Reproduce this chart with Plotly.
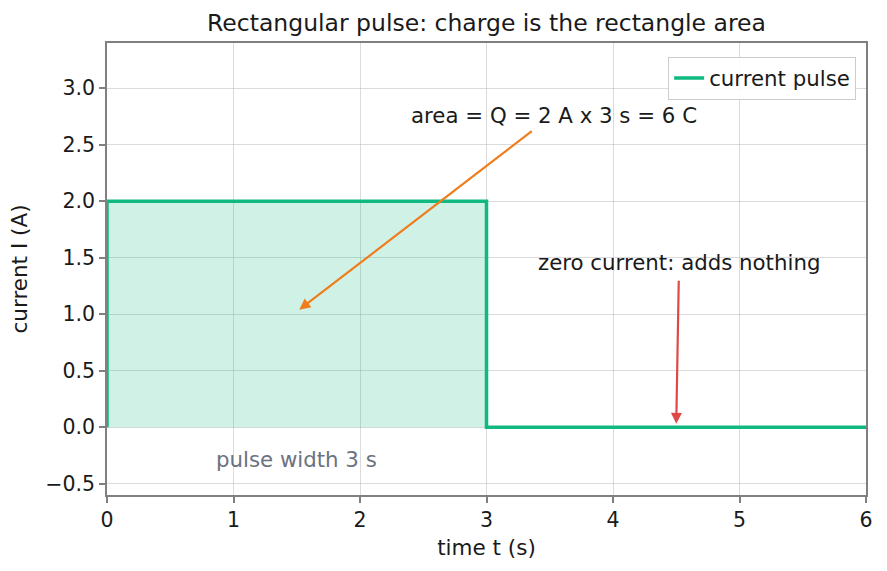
import plotly.graph_objects as go

# Data
t_vals = [0, 0, 3, 6]
i_vals = [0, 2, 0, 0]
fill_t = [0, 3]
fill_i = [2, 2]
x_ticks = [0, 1, 2, 3, 4, 5, 6]
y_ticks = [-0.5, 0.0, 0.5, 1.0, 1.5, 2.0, 2.5, 3.0]

GREEN = "#10b981"
FONT = "DejaVu Sans"

fig = go.Figure()
fig.add_trace(go.Scatter(
    x=fill_t, y=fill_i, mode="lines", line=dict(width=0),
    fill="tozeroy", fillcolor="rgba(16,185,129,0.2)",
    showlegend=False, hoverinfo="skip"))
fig.add_trace(go.Scatter(
    x=t_vals, y=i_vals, mode="lines", line_shape="hv",
    line=dict(color=GREEN, width=3.5), name="current pulse"))

ann_font = dict(family=FONT, size=21.3, color="#1a1a1a")
fig.add_annotation(x=1.52, y=1.04, ax=3.37, ay=2.63, xref="x", yref="y",
                   axref="x", ayref="y", showarrow=True, arrowhead=2,
                   arrowsize=1, arrowwidth=2.2, arrowcolor="#f07d1c", text="")
fig.add_annotation(x=3.53, y=2.76, xref="x", yref="y", showarrow=False,
                   text="area = Q = 2 A x 3 s = 6 C", font=ann_font)
fig.add_annotation(x=4.5, y=0.03, ax=4.52, ay=1.31, xref="x", yref="y",
                   axref="x", ayref="y", showarrow=True, arrowhead=2,
                   arrowsize=1, arrowwidth=2.2, arrowcolor="#e04848", text="")
fig.add_annotation(x=4.52, y=1.46, xref="x", yref="y", showarrow=False,
                   text="zero current: adds nothing", font=ann_font)
fig.add_annotation(x=1.5, y=-0.29, xref="x", yref="y", showarrow=False,
                   text="pulse width 3 s",
                   font=dict(family=FONT, size=21.3, color="#6b7280"))

axis_common = dict(
    showline=True, linecolor="#808080", linewidth=1.5, mirror=True,
    ticks="outside", ticklen=6, tickwidth=1.5, tickcolor="#808080",
    showgrid=True, gridcolor="rgba(176,176,176,0.45)", gridwidth=1,
    zeroline=False, tickfont=dict(family=FONT, size=20.5, color="#1a1a1a"),
)
fig.update_xaxes(range=[0, 6], tickvals=x_ticks, ticktext=[str(v) for v in x_ticks],
                 title=dict(text="time t (s)", font=dict(family=FONT, size=21.5, color="#1a1a1a"), standoff=9),
                 **axis_common)
fig.update_yaxes(range=[-0.6, 3.4], tickvals=y_ticks,
                 ticktext=[("\u2212" if v < 0 else "") + f"{abs(v):.1f}" for v in y_ticks],
                 title=dict(text="current I (A)", font=dict(family=FONT, size=21.5, color="#1a1a1a"), standoff=12),
                 **axis_common)

fig.update_layout(
    width=887, height=571,
    margin=dict(l=107, r=21, t=43, b=76),
    plot_bgcolor="white", paper_bgcolor="white",
    font=dict(family=FONT, color="#1a1a1a"),
    title=dict(text="Rectangular pulse: charge is the rectangle area",
               x=(107 + 866) / 2 / 887, xanchor="center", y=1 - 23 / 571, yanchor="middle",
               font=dict(family=FONT, size=23.5, color="#1a1a1a")),
    legend=dict(x=0.987, xanchor="right", y=0.97, yanchor="top",
                bgcolor="rgba(255,255,255,0.9)", bordercolor="#cccccc", borderwidth=1,
                font=dict(family=FONT, size=21.3, color="#1a1a1a")),
)

fig.write_html("out.html")
